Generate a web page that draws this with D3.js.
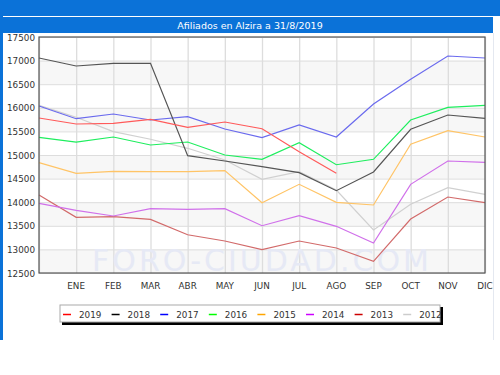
<!DOCTYPE html>
<html>
<head>
<meta charset="utf-8">
<script src="https://cdn.jsdelivr.net/npm/d3@7"></script>
<style>
  html, body { margin: 0; padding: 0; background: #fff; overflow: hidden; }
  svg { display: block; }
  text { font-family: "DejaVu Sans", sans-serif; }
</style>
</head>
<body>
<div class="chart"></div>
<script>
var svgWidth = 500;
var svgHeight = 375;

// chart data
var months = ["", "ENE", "FEB", "MAR", "ABR", "MAY", "JUN", "JUL", "AGO", "SEP", "OCT", "NOV", "DIC"];
var years = ["2019", "2018", "2017", "2016", "2015", "2014", "2013", "2012"];
var yTicks = [12500, 13000, 13500, 14000, 14500, 15000, 15500, 16000, 16500, 17000, 17500];

var v2019 = [15784, 15657, 15671, 15756, 15587, 15699, 15557, 15070, 14612];
var v2018 = [17055, 16886, 16943, 16943, 14985, 14873, 14752, 14625, 14244, 14640, 15545, 15847, 15778];
var v2017 = [16038, 15769, 15869, 15742, 15812, 15551, 15367, 15636, 15381, 16081, 16604, 17097, 17055];
var v2016 = [15375, 15275, 15381, 15212, 15275, 15000, 14909, 15261, 14794, 14909, 15742, 16010, 16053];
var v2015 = [14837, 14612, 14655, 14647, 14647, 14668, 13990, 14379, 13998, 13941, 15227, 15515, 15381];
var v2014 = [13977, 13828, 13708, 13863, 13849, 13863, 13502, 13714, 13489, 13136, 14379, 14873, 14845];
var v2013 = [14153, 13680, 13693, 13637, 13311, 13178, 12994, 13178, 13030, 12748, 13644, 14110, 13990];
var v2012 = [16050, 15799, 15494, 15333, 15142, 14894, 14485, 14646, 14258, 13411, 13955, 14307, 14167];

var series = [v2019, v2018, v2017, v2016, v2015, v2014, v2013, v2012];
var lineColors = ["#ff5a5a", "#555555", "#6a6aee", "#1eee5e", "#ffc466", "#d070ea", "#d26a6a", "#d0d0d0"];
var legendColors = ["#ff0000", "#000000", "#0000ff", "#00ff00", "#ffa500", "#cc00ff", "#cc0000", "#cccccc"];

var margin = { top: 37, right: 15, bottom: 102, left: 39 };
var width = svgWidth - margin.left - margin.right;
var height = svgHeight - margin.top - margin.bottom;

var svg = d3.select(".chart")
    .append("svg")
    .attr("width", svgWidth)
    .attr("height", svgHeight);

// header bands
svg.append("rect").attr("x", 0).attr("y", 0).attr("width", svgWidth).attr("height", 16).attr("fill", "#0b72d8");
svg.append("rect").attr("x", 0).attr("y", 0).attr("width", 3).attr("height", 340).attr("fill", "#0b72d8");
svg.append("rect").attr("x", 0).attr("y", 17).attr("width", 493).attr("height", 16).attr("fill", "#0b72d8");
svg.append("line").attr("x1", 493.5).attr("x2", 493.5).attr("y1", 33).attr("y2", 340)
    .attr("stroke", "#e4e8f0");

svg.append("text")
    .attr("x", 250)
    .attr("y", 28.5)
    .attr("text-anchor", "middle")
    .attr("font-size", "9.5px")
    .attr("fill", "#ffffff")
    .text("Afiliados en Alzira a 31/8/2019");

var x = d3.scalePoint()
    .domain(d3.range(months.length))
    .range([0, width]);

var y = d3.scaleLinear()
    .domain([12500, 17500])
    .range([height, 0]);

var chartGroup = svg.append("g")
    .attr("transform", `translate(${margin.left}, ${margin.top})`);

// alternating bands
chartGroup.selectAll(".band")
    .data(yTicks.slice(0, -1).filter((d, i) => i % 2 === 0))
    .enter()
    .append("rect")
    .attr("x", 0)
    .attr("width", width)
    .attr("y", d => y(d + 500))
    .attr("height", d => y(d) - y(d + 500))
    .attr("fill", "#f7f7f7");

// grid
chartGroup.append("g")
    .call(d3.axisLeft(y).tickValues(yTicks).tickSize(-width).tickFormat(""))
    .call(g => g.select(".domain").remove())
    .selectAll("line").attr("stroke", "#dddddd");

chartGroup.append("g")
    .attr("transform", `translate(0, ${height})`)
    .call(d3.axisBottom(x).tickSize(-height).tickFormat(""))
    .call(g => g.select(".domain").remove())
    .selectAll("line").attr("stroke", "#dddddd").attr("stroke-width", 1.3);

// watermark
chartGroup.append("text")
    .attr("x", width / 2)
    .attr("y", height - 2)
    .attr("text-anchor", "middle")
    .attr("font-size", "30px")
    .attr("letter-spacing", "3px")
    .attr("fill", "#e6e9f5")
    .text("FORO-CIUDAD.COM");

// lines
var line = d3.line()
    .x((d, i) => x(i))
    .y(d => y(d));

chartGroup.selectAll(".series")
    .data(series.slice().reverse())
    .enter()
    .append("path")
    .attr("d", d => line(d))
    .attr("fill", "none")
    .attr("stroke", (d, i) => lineColors[series.length - 1 - i])
    .attr("stroke-width", 1.2);

// frame
chartGroup.append("rect")
    .attr("x", 0).attr("y", 0)
    .attr("width", width).attr("height", height)
    .attr("fill", "none")
    .attr("stroke", "#555555")
    .attr("stroke-width", 1.2);

// y labels
chartGroup.selectAll(".ylab")
    .data(yTicks)
    .enter()
    .append("text")
    .attr("x", -4)
    .attr("y", d => y(d) + 3.5)
    .attr("text-anchor", "end")
    .attr("font-size", "8.8px")
    .attr("fill", "#333333")
    .text(d => d);

// x labels
chartGroup.selectAll(".xlab")
    .data(months)
    .enter()
    .append("text")
    .attr("x", (d, i) => x(i))
    .attr("y", height + 16)
    .attr("text-anchor", "middle")
    .attr("font-size", "8.8px")
    .attr("fill", "#333333")
    .text(d => d);

// legend
var legend = svg.append("g").attr("transform", "translate(60, 305)");
legend.append("rect").attr("x", 2).attr("y", 2).attr("width", 381).attr("height", 18).attr("fill", "#000");
legend.append("rect").attr("x", 0).attr("y", 0).attr("width", 380).attr("height", 17)
    .attr("fill", "#ffffff").attr("stroke", "#aaaaaa");

var items = legend.selectAll(".item")
    .data(years)
    .enter()
    .append("g")
    .attr("transform", (d, i) => `translate(${3 + i * 48.6}, 0)`);

items.append("line")
    .attr("x1", 0).attr("x2", 8)
    .attr("y1", 9.5).attr("y2", 9.5)
    .attr("stroke", (d, i) => legendColors[i])
    .attr("stroke-width", 1.5);

items.append("text")
    .attr("x", 16)
    .attr("y", 12.5)
    .attr("font-size", "8.8px")
    .attr("fill", "#333333")
    .text(d => d);
</script>
</body>
</html>
